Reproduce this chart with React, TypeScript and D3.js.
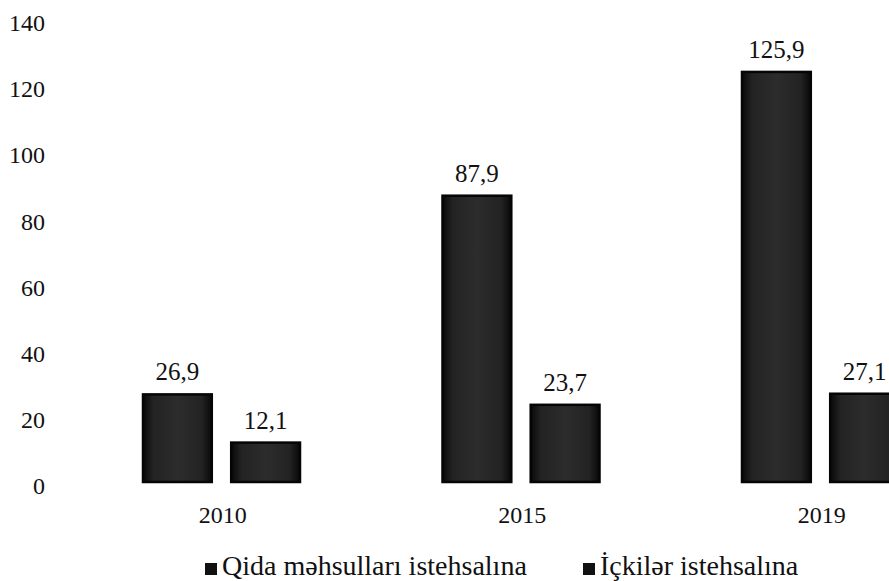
import React, { useEffect, useRef } from 'react';
import * as d3 from 'd3';

const years = ['2010', '2015', '2019'];
const seriesKeys = ['food', 'drinks'];
const seriesNames = ['Qida məhsulları istehsalına', 'İçkilər istehsalına'];
const foodValues = [26.9, 87.9, 125.9];
const drinkValues = [12.1, 23.7, 27.1];
const yTicks = [0, 20, 40, 60, 80, 100, 120, 140];

const fmt = (v: number) => v.toFixed(1).replace('.', ',');

export default function App() {
  const svgRef = useRef<SVGSVGElement | null>(null);

  useEffect(() => {
    if (!svgRef.current) return;
    const svg = d3.select(svgRef.current);
    svg.selectAll('*').remove();

    const W = 889;
    const H = 581;
    const font = '"Liberation Serif", "Times New Roman", serif';

    // scan-like bar shading
    const defs = svg.append('defs');
    const grad = defs.append('linearGradient').attr('id', 'barShade').attr('x1', '0').attr('x2', '1');
    grad.append('stop').attr('offset', '0%').attr('stop-color', '#080808');
    grad.append('stop').attr('offset', '15%').attr('stop-color', '#232323');
    grad.append('stop').attr('offset', '50%').attr('stop-color', '#2c2c2c');
    grad.append('stop').attr('offset', '85%').attr('stop-color', '#232323');
    grad.append('stop').attr('offset', '100%').attr('stop-color', '#080808');

    svg.append('rect').attr('width', W).attr('height', H).attr('fill', '#ffffff');

    const x0 = d3.scaleBand<string>()
      .domain(years)
      .range([73, 73 + 299.5 * years.length]);

    const x1 = d3.scaleBand<string>()
      .domain(seriesKeys)
      .range([70, 227])
      .paddingInner(0.22);

    const y = d3.scaleLinear().domain([0, 140]).range([482, 26]);
    // tick labels in the scan sit on a slightly wider spacing than the bars
    const yLabel = d3.scaleLinear().domain([0, 140]).range([486, 22.5]);

    // Y axis labels
    svg.append('g')
      .selectAll('text')
      .data(yTicks)
      .join('text')
      .attr('x', 45)
      .attr('y', d => yLabel(d))
      .attr('dy', '0.35em')
      .attr('text-anchor', 'end')
      .attr('font-family', font)
      .attr('font-size', 24)
      .attr('fill', '#111')
      .text(d => d);

    const rows = years.map((yr, i) => ({ year: yr, vals: [foodValues[i], drinkValues[i]] }));

    const groups = svg.append('g')
      .selectAll('g')
      .data(rows)
      .join('g')
      .attr('transform', d => `translate(${x0(d.year)},0)`);

    const cells = groups.selectAll('g')
      .data(d => d.vals.map((v, j) => ({ key: seriesKeys[j], v })))
      .join('g');

    cells.append('rect')
      .attr('x', d => x1(d.key)!)
      .attr('y', d => y(d.v))
      .attr('width', x1.bandwidth())
      .attr('height', d => y(0) - y(d.v))
      .attr('fill', 'url(#barShade)')
      .attr('stroke', '#050505')
      .attr('stroke-width', 2.5);

    cells.append('text')
      .attr('x', d => x1(d.key)! + x1.bandwidth() / 2)
      .attr('y', d => y(d.v) - 14)
      .attr('text-anchor', 'middle')
      .attr('font-family', font)
      .attr('font-size', 25)
      .attr('fill', '#111')
      .text(d => fmt(d.v));

    // year labels
    svg.append('g')
      .selectAll('text')
      .data(years)
      .join('text')
      .attr('x', d => x0(d)! + x0.bandwidth() / 2)
      .attr('y', 523)
      .attr('text-anchor', 'middle')
      .attr('font-family', font)
      .attr('font-size', 24)
      .attr('fill', '#111')
      .text(d => d);

    // legend
    const legendX = [205, 583];
    const lg = svg.append('g')
      .selectAll('g')
      .data(seriesNames)
      .join('g')
      .attr('transform', (d, i) => `translate(${legendX[i]},575)`);
    lg.append('rect')
      .attr('x', 0)
      .attr('y', -12)
      .attr('width', 12)
      .attr('height', 12)
      .attr('fill', '#111');
    lg.append('text')
      .attr('x', 17)
      .attr('y', 0)
      .attr('font-family', font)
      .attr('font-size', 28)
      .attr('fill', '#111')
      .text(d => d);
  }, []);

  return (
    <svg
      ref={svgRef}
      width={889}
      height={581}
      style={{ position: 'absolute', left: 0, top: 0, display: 'block' }}
    />
  );
}
